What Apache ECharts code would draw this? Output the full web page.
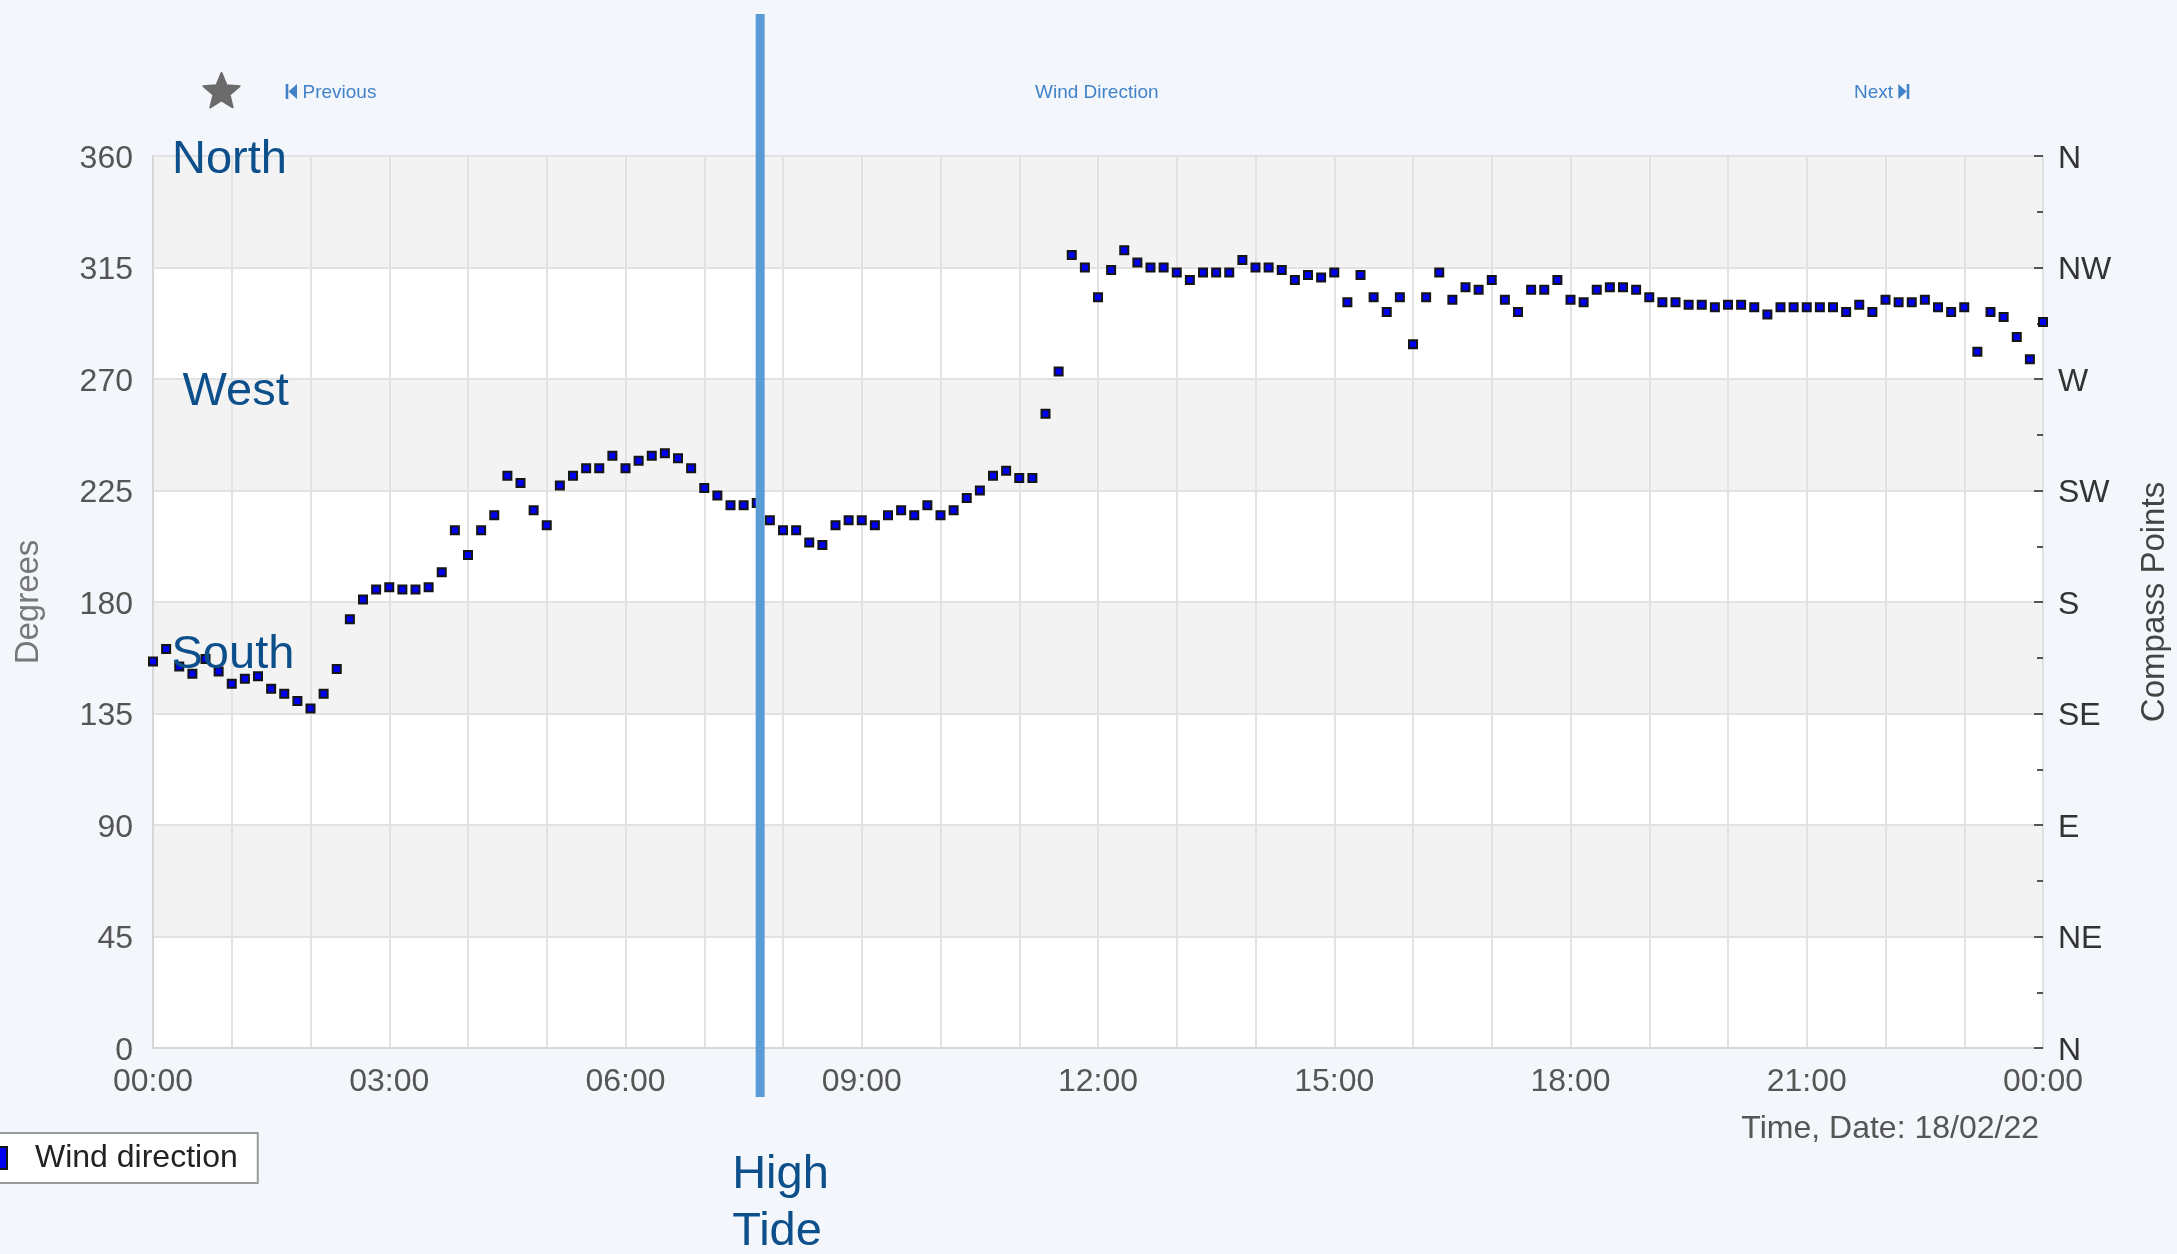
<!DOCTYPE html>
<html>
<head>
<meta charset="utf-8">
<script src="https://cdn.jsdelivr.net/npm/echarts@6/dist/echarts.min.js"></script>
<style>
html,body{margin:0;padding:0;background:#f3f6fa;}
#chart{width:2177px;height:1254px;}
</style>
</head>
<body>
<div id="chart"></div>
<script>
// ---- Data ----
const chartTitle = 'Wind Direction';
const seriesName = 'Wind direction';
const xAxisTitle = 'Time, Date: 18/02/22';
const startHour = 0;          // first reading at 00:00
const stepMinutes = 10;       // one reading every 10 minutes
// wind direction in degrees, 00:00 .. 24:00
const windDirection = [
  156,161,154,151,157,152,147,149,150,145,143,140,137,143,153,173,181,185,186,185,
  185,186,192,209,199,209,215,231,228,217,211,227,231,234,234,239,234,237,239,
  240,238,234,226,223,219,219,220,213,209,209,204,203,211,213,213,211,215,217,215,
  219,215,217,222,225,231,233,230,230,256,273,320,315,303,314,322,317,315,
  315,313,310,313,313,313,318,315,315,314,310,312,311,313,301,312,303,297,303,284,
  303,313,302,307,306,310,302,297,306,306,310,302,301,306,307,307,306,
  303,301,301,300,300,299,300,300,299,296,299,299,299,299,299,297,300,297,302,301,
  301,302,299,297,299,281,297,295,287,278,293
];
const degreeTicks = [0,45,90,135,180,225,270,315,360];
const compassPoints = ['N','NE','E','SE','S','SW','W','NW','N'];
const highTideHour = 7.71;   // ~07:43
const directionNotes = ['North','West','South'];
const highTideText = 'High\nTide';

// ---- Build ----
const FONT = "'Liberation Sans', Arial, Helvetica, sans-serif";
const points = windDirection.map((v, i) => [startHour + i * stepMinutes / 60, v]);
const pad2 = n => (n < 10 ? '0' : '') + n;

const chart = echarts.init(document.getElementById('chart'));
chart.setOption({
  backgroundColor: '#f3f6fa',
  animation: false,
  textStyle: { fontFamily: FONT },
  title: {
    text: chartTitle,
    left: 1035, top: 83, padding: 0,
    textStyle: { fontSize: 19, fontWeight: 'normal', color: '#4282c8', fontFamily: FONT }
  },
  legend: {
    left: -36, top: 1133,
    padding: [9, 20],
    itemWidth: 22, itemHeight: 22,
    backgroundColor: '#ffffff',
    borderColor: '#9a9a9a', borderWidth: 2, borderRadius: 0,
    textStyle: { fontSize: 32, color: '#222', lineHeight: 32, padding: [0, 0, 0, 23], fontFamily: FONT },
    data: [{ name: seriesName, icon: 'rect' }]
  },
  grid: { left: 153, right: 134, top: 156, bottom: 206, outerBoundsMode: 'none' },
  xAxis: {
    type: 'value', min: 0, max: 24, interval: 1,
    axisLine: { show: true, lineStyle: { color: '#d6d6d6', width: 2 } },
    axisTick: { show: false },
    splitLine: { show: true, lineStyle: { color: '#e2e2e2', width: 2 } },
    axisLabel: {
      fontSize: 32, color: '#555', margin: 18, fontFamily: FONT,
      formatter: v => (v % 3 === 0 ? pad2(v % 24) + ':00' : '')
    },
    name: xAxisTitle, nameLocation: 'end', nameGap: -4,
    nameTextStyle: { fontSize: 32, color: '#555', align: 'right', verticalAlign: 'top', padding: [65, 0, 0, 0], fontFamily: FONT }
  },
  yAxis: [{
    type: 'value', min: 0, max: 360, interval: 45, position: 'left',
    axisLine: { show: true, lineStyle: { color: '#d6d6d6', width: 2 } },
    axisTick: { show: false },
    axisLabel: { margin: 20,
      formatter: v => (degreeTicks.indexOf(v) >= 0 ? '{d|' + v + '}' : ''),
      rich: { d: { fontSize: 32, color: '#555', fontFamily: FONT, padding: [6, 0, 0, 0] } } },
    splitLine: { show: true, lineStyle: { color: '#e2e2e2', width: 2 } },
    splitArea: { show: true, areaStyle: { color: ['#ffffff', '#f3f3f3'] } },
    name: 'Degrees', nameLocation: 'middle', nameRotate: 90, nameGap: 108,
    nameTextStyle: { fontSize: 33, color: '#777', fontFamily: FONT }
  }, {
    type: 'value', min: 0, max: 360, interval: 45, position: 'right',
    axisLine: { show: true, lineStyle: { color: '#e2e2e2', width: 2 } },
    axisTick: { show: true, inside: true, length: 9, lineStyle: { color: '#555', width: 2 } },
    minorTick: { show: true, splitNumber: 2, length: 6, lineStyle: { color: '#555', width: 2 } },
    axisLabel: { margin: 15,
      formatter: v => (degreeTicks.indexOf(v) >= 0 ? '{c|' + compassPoints[degreeTicks.indexOf(v)] + '}' : ''),
      rich: { c: { fontSize: 32, color: '#333', fontFamily: FONT, padding: [6, 0, 0, 0] } } },
    splitLine: { show: false },
    splitArea: { show: false },
    name: 'Compass Points', nameLocation: 'middle', nameRotate: 90, nameGap: 95,
    nameTextStyle: { fontSize: 33, color: '#444', fontFamily: FONT }
  }],
  series: [{
    name: seriesName,
    type: 'scatter',
    xAxisIndex: 0, yAxisIndex: 0,
    data: points,
    symbol: 'rect',
    symbolSize: 8,
    clip: false,
    z: 5,
    itemStyle: { color: '#0000f0', borderColor: '#151515', borderWidth: 2, opacity: 1 },
    emphasis: { disabled: true }
  }]
});

// ---- Decorations placed through the chart's own scales ----
const tideX = chart.convertToPixel({ xAxisIndex: 0 }, highTideHour);
const yPix = v => chart.convertToPixel({ yAxisIndex: 0 }, v);

function star(cx, cy, R, r) {
  const pts = [];
  for (let i = 0; i < 10; i++) {
    const a = -Math.PI / 2 + i * Math.PI / 5;
    const rad = i % 2 === 0 ? R : r;
    pts.push([cx + rad * Math.cos(a), cy + rad * Math.sin(a)]);
  }
  return pts;
}
const noteStyle = { fontSize: 47, fontFamily: FONT, fill: '#0d4f8b', verticalAlign: 'middle', align: 'left' };
const linkStyle = { fontSize: 19, fontFamily: FONT, fill: '#4282c8', verticalAlign: 'middle', align: 'left' };

chart.setOption({
  graphic: [
    { type: 'rect', z: 50, shape: { x: tideX - 4.5, y: 14, width: 9, height: 1083 }, style: { fill: '#5b9bd5' } },
    { type: 'text', z: 60, x: tideX - 28, y: 1147,
      style: { text: highTideText, fontSize: 47, fontFamily: FONT, fill: '#0d4f8b', lineHeight: 57, verticalAlign: 'top', align: 'left' } },
    { type: 'text', z: 60, x: 172, y: yPix(360) + 4.5, style: Object.assign({ text: directionNotes[0] }, noteStyle) },
    { type: 'text', z: 60, x: 182.5, y: yPix(270) + 13, style: Object.assign({ text: directionNotes[1] }, noteStyle) },
    { type: 'text', z: 60, x: 171.5, y: yPix(180) + 53.5, style: Object.assign({ text: directionNotes[2] }, noteStyle) },
    { type: 'polygon', z: 60, shape: { points: star(221.5, 92, 19, 8.5) }, style: { fill: '#6b6b6b', stroke: '#6b6b6b', lineWidth: 2, lineJoin: 'round' } },
    { type: 'rect', z: 60, shape: { x: 285.7, y: 84, width: 2.6, height: 15 }, style: { fill: '#4282c8' } },
    { type: 'polygon', z: 60, shape: { points: [[297, 84], [297, 99], [288.5, 91.5]] }, style: { fill: '#4282c8' } },
    { type: 'text', z: 60, x: 302.5, y: 93, style: Object.assign({ text: 'Previous' }, linkStyle) },
    { type: 'text', z: 60, x: 1854, y: 93, style: Object.assign({ text: 'Next' }, linkStyle) },
    { type: 'polygon', z: 60, shape: { points: [[1898.3, 84], [1898.3, 99], [1906.5, 91.5]] }, style: { fill: '#4282c8' } },
    { type: 'rect', z: 60, shape: { x: 1906.7, y: 84, width: 2.6, height: 15 }, style: { fill: '#4282c8' } }
  ]
});
</script>
</body>
</html>
